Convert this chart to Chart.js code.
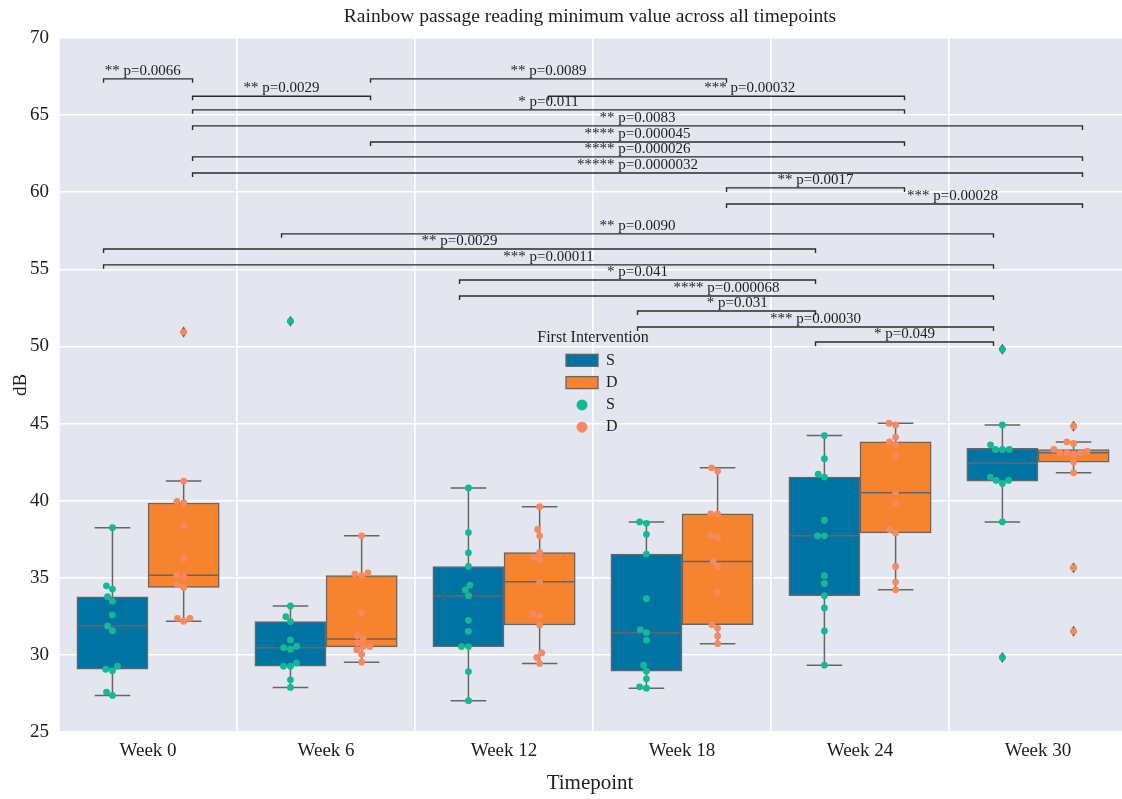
<!DOCTYPE html>
<html>
<head>
<meta charset="utf-8">
<script src="https://cdn.jsdelivr.net/npm/chart.js@4.4.1/dist/chart.umd.min.js"></script>
<style>
  html, body { margin: 0; padding: 0; background: #fff; }
  #wrap { width: 1122px; height: 799px; }
</style>
</head>
<body>
<div id="wrap"><canvas id="chart"></canvas></div>
<script>
const weeks = ["Week 0", "Week 6", "Week 12", "Week 18", "Week 24", "Week 30"];

// minimum dB per participant, one list per timepoint
const valuesS = [
  [38.25, 34.48, 34.27, 33.77, 33.47, 32.59, 31.88, 31.57, 29.27, 29.07, 28.97, 27.59, 27.37],
  [51.64, 33.17, 32.48, 32.16, 30.97, 30.56, 30.47, 30.37, 29.48, 29.27, 29.27, 28.38, 27.89],
  [40.82, 37.93, 36.62, 35.73, 34.53, 34.22, 33.84, 32.24, 31.53, 30.54, 30.54, 28.92, 27.03],
  [38.62, 38.53, 37.82, 36.53, 33.64, 31.64, 31.44, 30.95, 29.33, 28.94, 28.45, 27.93, 27.84],
  [44.22, 42.72, 41.72, 41.53, 38.73, 37.72, 37.72, 35.13, 34.63, 33.84, 33.04, 31.55, 29.33],
  [49.81, 44.91, 43.62, 43.32, 43.32, 43.32, 41.53, 41.31, 41.12, 41.31, 38.62, 29.83],
];
const valuesD = [
  [50.93, 41.27, 39.96, 39.85, 38.36, 36.27, 35.17, 35.06, 34.57, 34.37, 32.37, 32.37, 32.18],
  [37.72, 35.32, 35.24, 35.15, 32.74, 31.25, 31.03, 30.78, 30.54, 30.52, 30.34, 30.04, 29.53],
  [39.61, 38.13, 37.72, 36.64, 36.34, 36.14, 34.74, 32.65, 32.54, 31.94, 30.13, 29.83, 29.44],
  [42.13, 41.92, 39.14, 39.14, 37.74, 37.63, 36.06, 35.73, 34.05, 31.96, 31.72, 31.23, 30.73],
  [45.02, 44.91, 44.11, 43.81, 43.62, 42.91, 40.52, 39.83, 38.13, 37.91, 35.73, 34.72, 34.22],
  [44.83, 43.81, 43.71, 43.32, 43.21, 43.10, 43.10, 43.10, 43.02, 42.50, 41.81, 35.65, 31.53],
];

// significance brackets: [week, hue, week, hue, level (dB), label, label x (optional)]
const brackets = [
  [0, "S", 0, "D", 67.35, "** p=0.0066", -0.03],
  [1, "D", 3, "D", 67.35, "** p=0.0089"],
  [0, "D", 1, "D", 66.22, "** p=0.0029"],
  [2, "D", 4, "D", 66.22, "*** p=0.00032", 3.38],
  [0, "D", 4, "D", 65.34, "* p=0.011"],
  [0, "D", 5, "D", 64.30, "** p=0.0083"],
  [1, "D", 4, "D", 63.26, "**** p=0.000045"],
  [0, "D", 5, "D", 62.29, "**** p=0.000026"],
  [0, "D", 5, "D", 61.25, "***** p=0.0000032"],
  [3, "D", 4, "D", 60.28, "** p=0.0017"],
  [3, "D", 5, "D", 59.24, "*** p=0.00028", 4.52],
  [1, "S", 5, "S", 57.30, "** p=0.0090"],
  [0, "S", 4, "S", 56.32, "** p=0.0029"],
  [0, "S", 5, "S", 55.29, "*** p=0.00011"],
  [2, "S", 4, "S", 54.31, "* p=0.041"],
  [2, "S", 5, "S", 53.27, "**** p=0.000068"],
  [3, "S", 4, "S", 52.30, "* p=0.031", 3.31],
  [3, "S", 5, "S", 51.26, "*** p=0.00030"],
  [4, "S", 5, "S", 50.29, "* p=0.049"],
];

const FONT = "'Liberation Serif', 'Times New Roman', serif";
const BOX_S = "#0173a3";
const BOX_D = "#f58330";
const DOT_S = "#13b996";
const DOT_D = "#f7895f";
const EDGE = "#666666";
const PANEL = "#e4e6ef";

const dodge = (hue) => (hue === "S" ? -0.2 : 0.2);
const bracketPos = (week, hue) => week + (hue === "S" ? -0.25 : 0.25);

function quantile(sorted, q) {
  const pos = (sorted.length - 1) * q;
  const lo = Math.floor(pos);
  const hi = Math.ceil(pos);
  return sorted[lo] + (sorted[hi] - sorted[lo]) * (pos - lo);
}

function boxStats(values, pos) {
  const sorted = [...values].sort((a, b) => a - b);
  const q1 = quantile(sorted, 0.25);
  const med = quantile(sorted, 0.5);
  const q3 = quantile(sorted, 0.75);
  const iqr = q3 - q1;
  const inside = sorted.filter((v) => v >= q1 - 1.5 * iqr && v <= q3 + 1.5 * iqr);
  return {
    pos, q1, med, q3,
    lo: inside[0],
    hi: inside[inside.length - 1],
    fliers: sorted.filter((v) => !inside.includes(v)),
  };
}

const statsS = valuesS.map((vals, i) => boxStats(vals, i + dodge("S")));
const statsD = valuesD.map((vals, i) => boxStats(vals, i + dodge("D")));
const allStats = [...statsS, ...statsD];

const points = (groups, hue) =>
  groups.flatMap((vals, i) => vals.map((v) => ({ x: i + dodge(hue), y: v })));

// seaborn-like swarm: place each point closest to the midline without overlap
function beeswarm(ys, cx, d) {
  const placed = [];
  for (const y of ys) {
    const near = placed.filter((p) => Math.abs(p.y - y) < d);
    const cands = [cx];
    for (const p of near) {
      const dx = Math.sqrt(d * d - (p.y - y) ** 2) * 1.05;
      cands.push(p.x - dx, p.x + dx);
    }
    cands.sort((a, b) => Math.abs(a - cx) - Math.abs(b - cx));
    const x = cands.find((c) => near.every((p) => (p.x - c) ** 2 + (p.y - y) ** 2 >= d * d * 0.999));
    placed.push({ x, y });
  }
  return placed;
}

function swarmData(chart, groups, hue) {
  const { x, y } = chart.scales;
  return groups.flatMap((vals, i) => {
    const sorted = [...vals].sort((a, b) => a - b);
    const cx = x.getPixelForValue(i + dodge(hue));
    const placed = beeswarm(sorted.map((v) => y.getPixelForValue(v)), cx, 6.6);
    return placed.map((p, k) => ({ x: x.getValueForPixel(p.x), y: sorted[k] }));
  });
}

const panelPlugin = {
  id: "panel",
  beforeDraw(chart) {
    const { ctx, chartArea: a } = chart;
    ctx.save();
    ctx.fillStyle = PANEL;
    ctx.fillRect(a.left, a.top, a.right - a.left, a.bottom - a.top);
    ctx.restore();
  },
};

const boxPlugin = {
  id: "boxDetails",
  afterDatasetDraw(chart, args) {
    if (args.index !== 2) return;
    const { ctx, scales: { x, y } } = chart;
    ctx.save();
    ctx.strokeStyle = EDGE;
    ctx.lineWidth = 1.5;
    for (const st of allStats) {
      const cx = x.getPixelForValue(st.pos);
      const half = x.getPixelForValue(st.pos + 0.2) - cx;
      const cap = x.getPixelForValue(st.pos + 0.1) - cx;
      ctx.beginPath();
      ctx.moveTo(cx, y.getPixelForValue(st.q3));
      ctx.lineTo(cx, y.getPixelForValue(st.hi));
      ctx.moveTo(cx, y.getPixelForValue(st.q1));
      ctx.lineTo(cx, y.getPixelForValue(st.lo));
      ctx.moveTo(cx - cap, y.getPixelForValue(st.hi));
      ctx.lineTo(cx + cap, y.getPixelForValue(st.hi));
      ctx.moveTo(cx - cap, y.getPixelForValue(st.lo));
      ctx.lineTo(cx + cap, y.getPixelForValue(st.lo));
      ctx.moveTo(cx - half + 1, y.getPixelForValue(st.med));
      ctx.lineTo(cx + half - 1, y.getPixelForValue(st.med));
      ctx.stroke();
      ctx.fillStyle = "#555";
      for (const f of st.fliers) {
        const fy = y.getPixelForValue(f);
        ctx.beginPath();
        ctx.moveTo(cx, fy - 5.5);
        ctx.lineTo(cx + 3.6, fy);
        ctx.lineTo(cx, fy + 5.5);
        ctx.lineTo(cx - 3.6, fy);
        ctx.closePath();
        ctx.fill();
      }
    }
    ctx.restore();
  },
};

const annotationPlugin = {
  id: "annotations",
  afterDraw(chart) {
    const { ctx, chartArea: a, scales: { x, y } } = chart;
    ctx.save();
    ctx.strokeStyle = "#2b2b2b";
    ctx.lineWidth = 1.4;
    ctx.fillStyle = "#1e1e1e";
    ctx.font = `15px ${FONT}`;
    ctx.textAlign = "center";
    ctx.textBaseline = "bottom";
    for (const [g1, h1, g2, h2, level, label, tx] of brackets) {
      const p1 = bracketPos(g1, h1);
      const p2 = bracketPos(g2, h2);
      const x1 = x.getPixelForValue(p1);
      const x2 = x.getPixelForValue(p2);
      const yy = y.getPixelForValue(level);
      ctx.beginPath();
      ctx.moveTo(x1, yy + 4);
      ctx.lineTo(x1, yy);
      ctx.lineTo(x2, yy);
      ctx.lineTo(x2, yy + 4);
      ctx.stroke();
      ctx.fillText(label, x.getPixelForValue(tx ?? (p1 + p2) / 2), yy - 0.5);
    }

    // legend
    const lx = a.left + 508;
    const ly = a.top + 300;
    ctx.font = `16px ${FONT}`;
    ctx.textBaseline = "middle";
    ctx.textAlign = "center";
    ctx.fillText("First Intervention", lx + 27, ly);
    ctx.textAlign = "left";
    const rows = [
      ["box", BOX_S, "S"],
      ["box", BOX_D, "D"],
      ["dot", DOT_S, "S"],
      ["dot", DOT_D, "D"],
    ];
    rows.forEach(([kind, color, label], k) => {
      const ry = ly + 22.3 * (k + 1);
      if (kind === "box") {
        ctx.fillStyle = color;
        ctx.fillRect(lx, ry - 6, 32, 12);
        ctx.strokeStyle = EDGE;
        ctx.lineWidth = 1.3;
        ctx.strokeRect(lx, ry - 6, 32, 12);
      } else {
        ctx.fillStyle = color;
        ctx.beginPath();
        ctx.arc(lx + 16, ry, 5.5, 0, Math.PI * 2);
        ctx.fill();
      }
      ctx.fillStyle = "#1e1e1e";
      ctx.fillText(label, lx + 40, ry);
    });
    ctx.restore();
  },
};

const chart = new Chart(document.getElementById("chart"), {
  type: "bar",
  data: {
    datasets: [
      { type: "scatter", label: "S", data: points(valuesS, "S"), backgroundColor: DOT_S, pointRadius: 3.4, borderWidth: 0 },
      { type: "scatter", label: "D", data: points(valuesD, "D"), backgroundColor: DOT_D, pointRadius: 3.4, borderWidth: 0 },
      {
        type: "bar", label: "S", grouped: false,
        data: statsS.map((s) => ({ x: s.pos, y: [s.q1, s.q3] })),
        backgroundColor: BOX_S, borderColor: EDGE, borderWidth: 1.5, borderSkipped: false,
        barPercentage: 1, categoryPercentage: 1,
      },
      {
        type: "bar", label: "D", grouped: false,
        data: statsD.map((s) => ({ x: s.pos, y: [s.q1, s.q3] })),
        backgroundColor: BOX_D, borderColor: EDGE, borderWidth: 1.5, borderSkipped: false,
        barPercentage: 1, categoryPercentage: 1,
      },
    ],
  },
  options: {
    responsive: true,
    maintainAspectRatio: false,
    animation: false,
    events: [],
    devicePixelRatio: 1,
    // no auto padding: the panel runs to the right edge of the figure
    layout: { padding: 0, autoPadding: false },
    plugins: {
      legend: { display: false },
      tooltip: { enabled: false },
      title: {
        display: true,
        fullSize: false,
        text: "Rainbow passage reading minimum value across all timepoints",
        color: "#1e1e1e",
        font: { family: FONT, size: 19.5, weight: "normal" },
        padding: { top: 5, bottom: 9.6 },
      },
    },
    scales: {
      x: {
        type: "linear",
        min: -0.506,
        max: 5.472,
        offset: false,
        afterBuildTicks: (s) => { s.ticks = weeks.map((_, i) => ({ value: i })); },
        afterFit: (s) => { s.height = 67; s.paddingLeft = 0; s.paddingRight = 0; },
        grid: { color: "#ffffff", lineWidth: 1.6, drawTicks: false },
        border: { display: false },
        ticks: {
          callback: (v) => weeks[v],
          color: "#1e1e1e",
          padding: 8,
          font: { family: FONT, size: 19 },
        },
        title: {
          display: true,
          text: "Timepoint",
          color: "#1e1e1e",
          font: { family: FONT, size: 21 },
          padding: { top: 3, bottom: 3 },
        },
      },
      y: {
        min: 25,
        max: 70,
        afterFit: (s) => { s.width = 58; },
        grid: { color: "#ffffff", lineWidth: 1.6, drawTicks: false },
        border: { display: false },
        ticks: {
          stepSize: 5,
          color: "#1e1e1e",
          padding: 9,
          font: { family: FONT, size: 19 },
        },
        title: {
          display: true,
          text: "dB",
          color: "#1e1e1e",
          font: { family: FONT, size: 19 },
          padding: { top: 10, bottom: 10 },
        },
      },
    },
  },
  plugins: [panelPlugin, boxPlugin, annotationPlugin],
});

// second pass: spread the points into swarms now that pixel scales are known
chart.data.datasets[0].data = swarmData(chart, valuesS, "S");
chart.data.datasets[1].data = swarmData(chart, valuesD, "D");
chart.update("none");
</script>
</body>
</html>
